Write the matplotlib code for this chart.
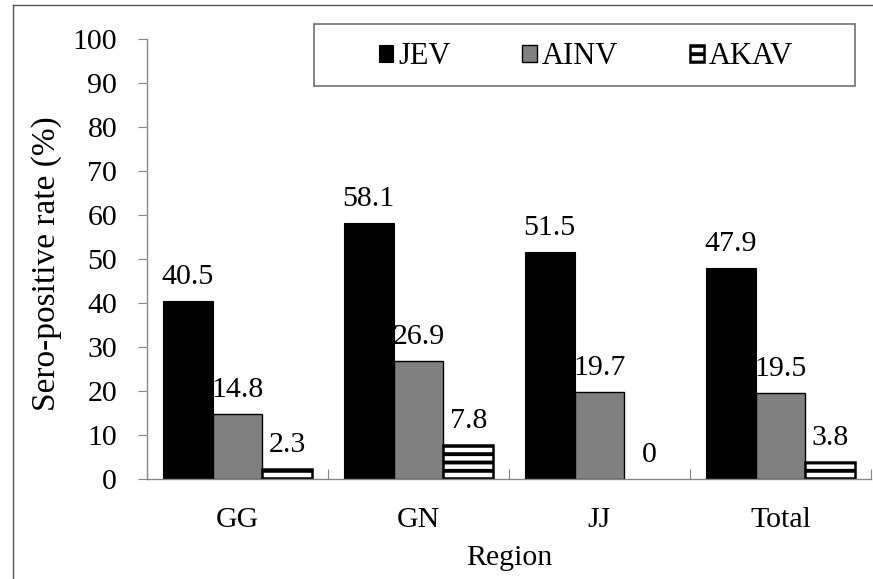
import matplotlib
matplotlib.use("Agg")
import matplotlib.pyplot as plt
import numpy as np
from matplotlib.patches import Rectangle
from matplotlib.lines import Line2D

regions = ["GG", "GN", "JJ", "Total"]
series = ["JEV", "AINV", "AKAV"]
jev = [40.5, 58.1, 51.5, 47.9]
ainv = [14.8, 26.9, 19.7, 19.5]
akav = [2.3, 7.8, 0, 3.8]

plt.rcParams["font.family"] = ["Liberation Serif", "DejaVu Serif"]
plt.rcParams["hatch.linewidth"] = 2.8
plt.rcParams["hatch.color"] = "black"

fs = 21.5

fig = plt.figure(figsize=(8.73, 5.79), dpi=100)
ax = fig.add_axes([147 / 873, 1 - 479 / 579, 724 / 873, 440 / 579])

x = np.arange(len(regions))
w = 0.276
styles = [dict(color="black", edgecolor="black", linewidth=0.8),
          dict(color="#808080", edgecolor="black", linewidth=1.0),
          dict(color="white", edgecolor="black", linewidth=1.8, hatch="--")]

handles = []
for i, (vals, st) in enumerate(zip([jev, ainv, akav], styles)):
    bars = ax.bar(x + (i - 1) * w, vals, w, label=series[i], **st)
    for b, v in zip(bars, vals):
        if v == 0:
            b.set_linewidth(0)
    ax.bar_label(bars, labels=[f"{v:g}" for v in vals], padding=8, fontsize=fs)
    handles.append(bars)

ax.set_xlim(-0.5, 3.5)
ax.set_ylim(0, 100)
ax.set_yticks(range(0, 101, 10))
ax.set_xticks(np.arange(-0.5, 4, 1))
ax.set_xticklabels([])
ax.set_xticks(x, minor=True)
ax.set_xticklabels(regions, minor=True)
ax.tick_params(axis="x", which="major", direction="in", length=7, color="#868686")
ax.tick_params(axis="x", which="minor", length=0, pad=20, labelsize=fs)
ax.tick_params(axis="y", direction="out", length=6.5, color="#868686", labelsize=fs, pad=15)

for s in ["top", "right"]:
    ax.spines[s].set_visible(False)
for s in ["left", "bottom"]:
    ax.spines[s].set_color("#868686")
    ax.spines[s].set_linewidth(1)

ax.set_xlabel("Region", fontsize=fs)
ax.xaxis.set_label_coords(0.5, -0.15)
ax.set_ylabel("Sero-positive rate (%)", fontsize=24)
ax.yaxis.set_label_coords(-0.118, 0.489)

# legend box
fig.patches.append(Rectangle((314 / 873, 1 - 86 / 579), 541 / 873, 62 / 579,
                             transform=fig.transFigure, fill=False,
                             edgecolor="#707070", linewidth=1.2))
fig.legend(handles=handles, loc="center", bbox_to_anchor=(586 / 873, 1 - 57 / 579),
           ncol=3, frameon=False, fontsize=22, handlelength=0.48, handleheight=0.48,
           handletextpad=0.15, columnspacing=2.35)

# outer frame lines
fig.add_artist(Line2D([13 / 873, 13 / 873], [0, 1 - 5 / 579], transform=fig.transFigure,
                      color="#555555", linewidth=1))
fig.add_artist(Line2D([13 / 873, 1], [1 - 5 / 579, 1 - 5 / 579], transform=fig.transFigure,
                      color="#555555", linewidth=1))

fig.savefig("out.png", dpi=100)
